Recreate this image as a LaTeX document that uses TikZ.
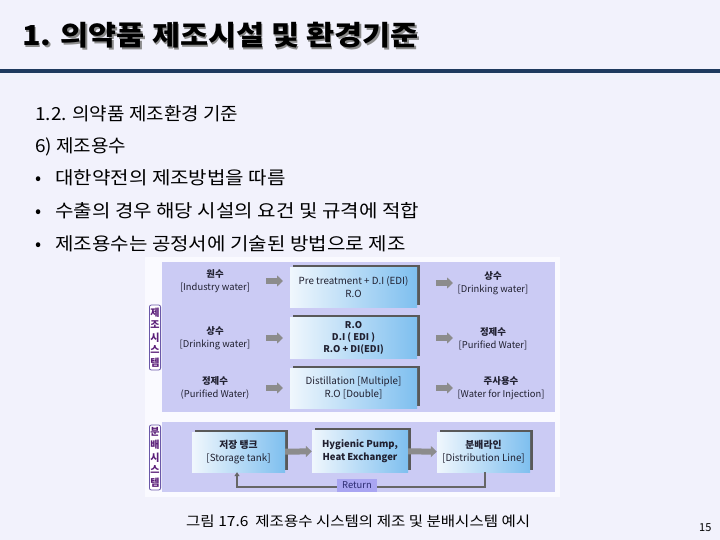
\documentclass[tikz,border=0pt]{standalone}
\usepackage{fontspec}
\usepackage{graphicx}
\setmainfont{Noto Sans CJK KR}
\usetikzlibrary{arrows.meta,calc,shadows}
\definecolor{slidebg}{HTML}{F2F2FC}
\definecolor{navyline}{HTML}{1F3A5F}
\definecolor{imgbg}{HTML}{FAFAFF}
\definecolor{panel}{HTML}{CBCBF4}
\definecolor{boxL}{HTML}{F0F7FD}
\definecolor{boxR}{HTML}{7EBFEF}
\definecolor{agray}{HTML}{8C8C8C}
\definecolor{tagborder}{HTML}{6A58A8}
\definecolor{tagtext}{HTML}{5A1E78}
\definecolor{retfill}{HTML}{A9A5F2}
\definecolor{rettext}{HTML}{2A2A70}
\definecolor{dtext}{HTML}{202030}
\newcommand{\wideA}[1]{\scalebox{1.115}[1]{#1}}
\newcommand{\wideB}[1]{\scalebox{1.055}[1]{#1}}
\newcommand{\wideT}[1]{\scalebox{1.11}[1]{#1}}
\begin{document}
\begin{tikzpicture}[x=1pt,y=-1pt,
  body/.style={anchor=base west, inner sep=0pt, font=\fontsize{18}{20}\selectfont, text=black},
  dlab/.style={align=center, inner sep=0pt, font=\fontsize{9.4}{13}\selectfont, text=dtext},
  procbox/.style={draw=none, left color=boxL, right color=boxR, minimum height=40pt, inner sep=0pt, align=center,
    font=\fontsize{9.8}{13}\selectfont, text=dtext,
    drop shadow={shadow xshift=2.5pt, shadow yshift=2.5pt, fill=black!65, opacity=1}},
  garrow/.style={draw=agray, line width=6pt, -{Triangle[length=6pt,width=11pt]}},
  tag/.style={draw=tagborder, line width=0.8pt, rounded corners=2pt, fill=white, inner sep=1pt, align=center,
    font=\bfseries\fontsize{10}{12.6}\selectfont, text=tagtext, minimum width=11pt},
]
\useasboundingbox (0,0) rectangle (720,540);
\fill[slidebg] (0,0) rectangle (720,540);
% title
\node[anchor=base west, inner sep=0pt, font=\bfseries\fontsize{27.5}{30}\selectfont, text=black!45] (titlesh) at (23.5,47.5) {\wideT{1. 의약품 제조시설 및 환경기준}};
\node[anchor=base west, inner sep=0pt, font=\bfseries\fontsize{27.5}{30}\selectfont, text=black] (title) at (22,46) {\wideT{1. 의약품 제조시설 및 환경기준}};
\fill[navyline] (0,69.5) rectangle (720,73.5);
% body
\node[body] (h1) at (35,121) {\wideB{1.2. 의약품 제조환경 기준}};
\node[body] (h2) at (35,153) {\wideB{6) 제조용수}};
\node[body] (b1m) at (35,185) {•};
\node[body] (b1) at (55,185) {\wideA{대한약전의 제조방법을 따름}};
\node[body] (b2m) at (35,218) {•};
\node[body] (b2) at (55,218) {\wideA{수출의 경우 해당 시설의 요건 및 규격에 적합}};
\node[body] (b3m) at (35,250) {•};
\node[body] (b3) at (55,250) {\wideA{제조용수는 공정서에 기술된 방법으로 제조}};
% figure background
\fill[imgbg] (145,257) rectangle (560,497);
\fill[panel] (162,262) rectangle (555,412);
\fill[panel] (162,422) rectangle (555,492);
% tags
\node[tag, minimum height=65pt] (tag1) at (155,337.5) {제\\조\\시\\스\\템};
\node[tag, minimum height=65pt] (tag2) at (155,457.5) {분\\배\\시\\스\\템};
% left labels
\node[dlab] (l1) at (215,281) {\textbf{원수}\\{[Industry water]}};
\node[dlab] (l2) at (215,338.5) {\textbf{상수}\\{[Drinking water]}};
\node[dlab] (l3) at (215,388) {\textbf{정제수}\\(Purified Water)};
% middle boxes
\node[procbox, minimum width=127pt] (m1) at (353.5,287) {Pre treatment + D.I (EDI)\\R.O};
\node[procbox, minimum width=127pt, minimum height=41pt, font=\bfseries\fontsize{9.3}{12}\selectfont] (m2) at (353.5,337.5) {R.O\\D.I ( EDI )\\R.O + DI(EDI)};
\node[procbox, minimum width=127pt] (m3) at (353.5,388) {Distillation [Multiple]\\R.O [Double]};
% right labels
\node[dlab] (r1) at (493,283) {\textbf{상수}\\{[Drinking water]}};
\node[dlab] (r2) at (493,339) {\textbf{정제수}\\{[Purified Water]}};
\node[dlab] (r3) at (501,388) {\textbf{주사용수}\\{[Water for Injection]}};
% arrow coordinates
\coordinate (a1s) at (266,281); \coordinate (a1e) at (283,281);
\coordinate (a2s) at (266,338); \coordinate (a2e) at (283,338);
\coordinate (a3s) at (266,388); \coordinate (a3e) at (283,388);
\coordinate (c1s) at (436,283); \coordinate (c1e) at (453,283);
\coordinate (c2s) at (436,338); \coordinate (c2e) at (453,338);
\coordinate (c3s) at (436,388); \coordinate (c3e) at (453,388);
\draw[garrow] (a1s) -- (a1e);
\draw[garrow] (a2s) -- (a2e);
\draw[garrow] (a3s) -- (a3e);
\draw[garrow] (c1s) -- (c1e);
\draw[garrow] (c2s) -- (c2e);
\draw[garrow] (c3s) -- (c3e);
% distribution system
\node[procbox, minimum width=93pt] (s1) at (238.5,452) {\textbf{저장 탱크}\\{[Storage tank]}};
\node[procbox, minimum width=96pt, minimum height=42pt, font=\bfseries\fontsize{9.5}{13}\selectfont] (s2) at (360,451) {Hygienic Pump,\\Heat Exchanger};
\node[procbox, minimum width=93pt] (s3) at (483.5,452) {\textbf{분배라인}\\{[Distribution Line]}};
\draw[garrow] (s1) -- (s2);
\draw[garrow] (s2) -- (s3);
% return line
\coordinate (rt1) at (485,487);
\coordinate (rt2) at (237,487);
\draw[draw=black!60, line width=1.3pt, -{Triangle[length=4pt,width=5pt]}] (s3.south -| rt1) -- (rt1) -- (rt2) -- (s1.south -| rt2);
\node[fill=retfill, inner sep=0pt, minimum width=40pt, minimum height=13pt, font=\fontsize{9.4}{10}\selectfont, text=rettext] (ret) at (357,485.5) {Return};
% caption
\node[anchor=base west, inner sep=0pt, font=\fontsize{14}{16}\selectfont] (cap) at (186,526) {\scalebox{1.11}[1]{그림 17.6~ 제조용수 시스템의 제조 및 분배시스템 예시}};
\node[anchor=base west, inner sep=0pt, font=\fontsize{11}{13}\selectfont] (pg) at (699,531) {15};
\end{tikzpicture}
\end{document}
